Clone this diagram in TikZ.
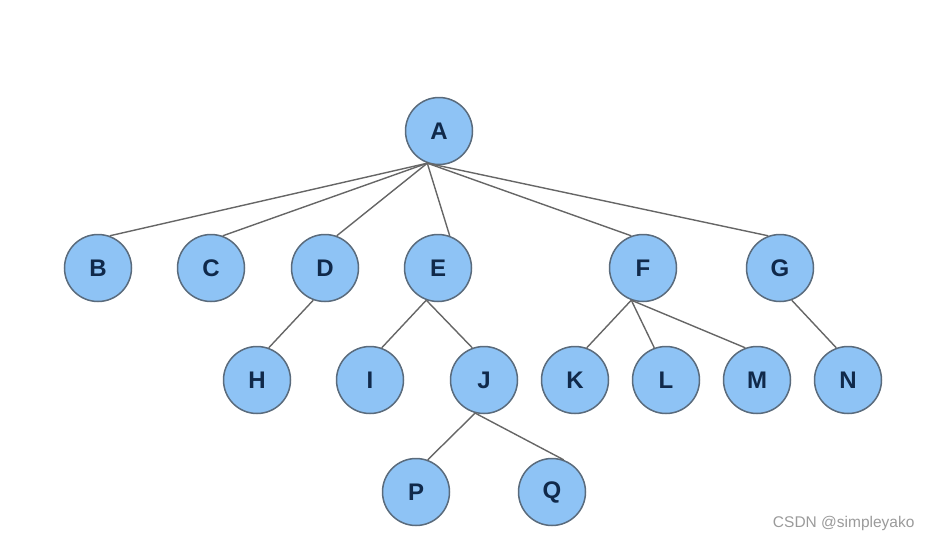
\documentclass[tikz,border=0pt]{standalone}
\usepackage{fontspec}
\setmainfont{Liberation Sans}
\usepackage{tikz}
\usetikzlibrary{positioning}
\definecolor{nodeblue}{HTML}{8EC3F5}
\definecolor{rimgray}{HTML}{5A6B7C}
\definecolor{inkblue}{HTML}{10294A}
\definecolor{linegray}{HTML}{666666}
\definecolor{markgray}{HTML}{9A9A9A}

\begin{document}
\begin{tikzpicture}[
    x=1pt,y=-1pt,
    vertex/.style={circle,draw=rimgray,fill=nodeblue,line width=1.5pt,
                   minimum size=67pt,inner sep=0pt,text=inkblue,
                   font=\fontsize{24}{24}\selectfont\bfseries},
    edge/.style={draw=linegray,line width=1.4pt}
  ]
    \useasboundingbox (0,0) rectangle (932,541);
    % root
    \node[vertex] (A) at (439,131) {A};
    % second row
    \node[vertex] (B) at (98,268)  {B};
    \node[vertex] (C) at (211,268) {C};
    \node[vertex] (D) at (325,268) {D};
    \node[vertex] (E) at (438,268) {E};
    \node[vertex] (F) at (643,268) {F};
    \node[vertex] (G) at (780,268) {G};
    % third row
    \node[vertex] (H) at (257,380) {H};
    \node[vertex] (I) at (370,380) {I};
    \node[vertex] (J) at (484,380) {J};
    \node[vertex] (K) at (575,380) {K};
    \node[vertex] (L) at (666,380) {L};
    \node[vertex] (M) at (757,380) {M};
    \node[vertex] (N) at (848,380) {N};
    % fourth row
    \node[vertex] (P) at (416,492) {P};
    \node[vertex] (Q) at (552,492) {Q};
    % edges
    \foreach \kid in {B,C,D,E} \draw[edge] (A.250) -- (\kid.70);
    \foreach \kid in {F,G} \draw[edge] (A.250) -- (\kid.110);
    \draw[edge] (D.250) -- (H.70);
    \draw[edge] (E.250) -- (I.70);
    \draw[edge] (E.250) -- (J.110);
    \draw[edge] (F.250) -- (K.70);
    \foreach \kid in {L,M} \draw[edge] (F.250) -- (\kid.110);
    \draw[edge] (G.290) -- (N.110);
    \draw[edge] (J.255) -- (P.70);
    \draw[edge] (J.255) -- (Q.70);
    % watermark
    \node[text=markgray,font=\fontsize{15.5}{15.5}\selectfont,anchor=east] (mark) at (918,523) {CSDN @simpleyako};
\end{tikzpicture}
\end{document}
